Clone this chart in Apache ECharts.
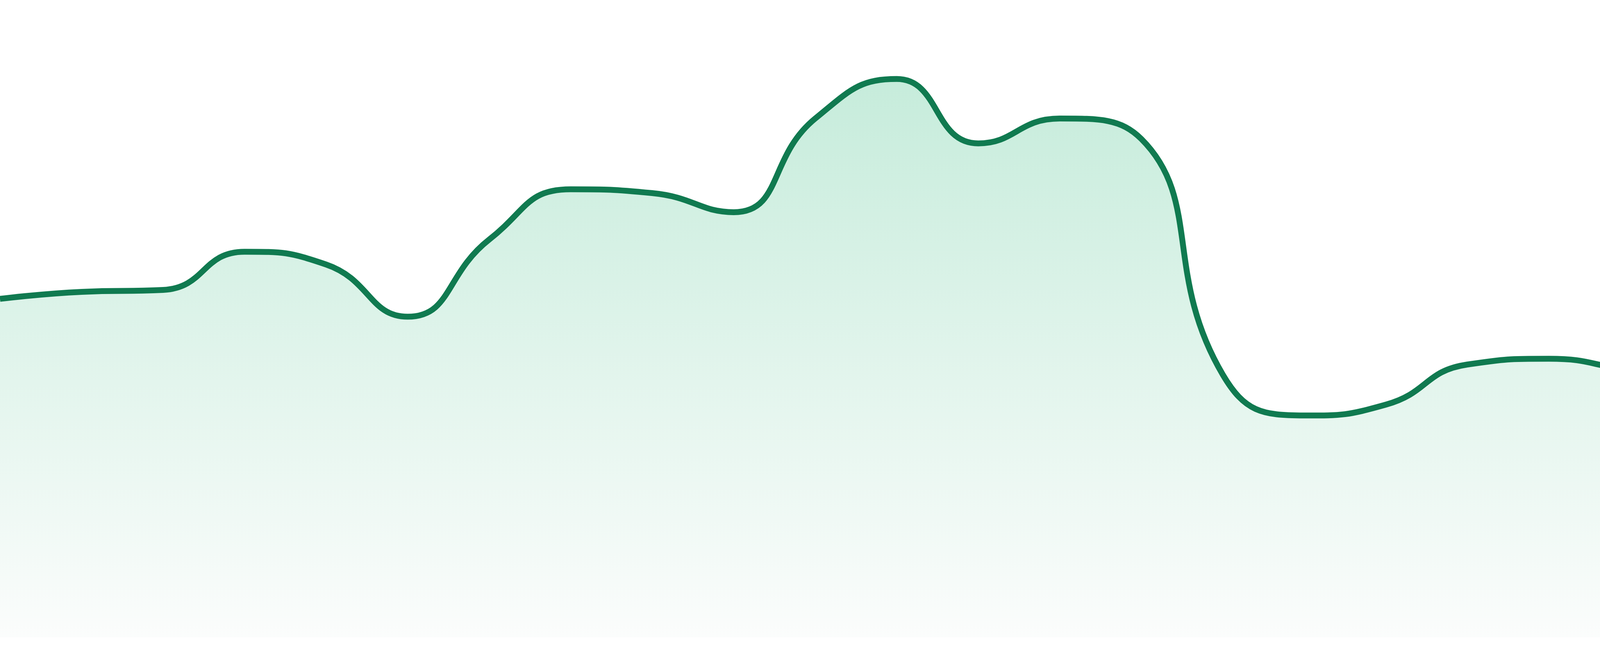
<!DOCTYPE html>
<html>
<head>
<meta charset="utf-8">
<title>chart</title>
<script src="https://cdn.jsdelivr.net/npm/echarts@6/dist/echarts.min.js"></script>
<style>
    html,body{margin:0;padding:0;background:#fff;}
    #main{width:4800px;height:1680px;}
</style>
</head>
<body>
<div id="main"></div>
<script>
var hours=['00:00','01:00','02:00','03:00','04:00','05:00','06:00','07:00','08:00','09:00','10:00','11:00',
    '12:00','13:00','14:00','15:00','16:00','17:00','18:00','19:00','20:00','21:00','22:00','23:00'];
var values=[53.1,54.2,54.5,60.5,58.5,50.3,62.4,70.3,69.7,66.7,81.4,87.6,
    77.5,81.4,78.2,41.2,34.8,36.5,42.8,43.7,41.9,40.4,42.3,42.3];

var chart=echarts.init(document.getElementById('main'));
var option={
    animation:false,
    grid:{left:0,right:0,top:0,bottom:48},
    xAxis:{
        type:'category',
        boundaryGap:false,
        data:hours,
        show:false
    },
    yAxis:{
        type:'value',
        min:0,
        max:100,
        show:false
    },
    series:[
        {
            type:'line',
            data:values,
            smooth:true,
            showSymbol:false,
            lineStyle:{color:'#107a50',width:15},
            itemStyle:{color:'#107a50'},
            areaStyle:{
                color:new echarts.graphic.LinearGradient(0,0,0,1,[
                    {offset:0,color:'#ade3cb'},
                    {offset:1,color:'#f9fbfa'}
                ])
            }
        }
    ]
};
chart.setOption(option);
</script>
</body>
</html>
